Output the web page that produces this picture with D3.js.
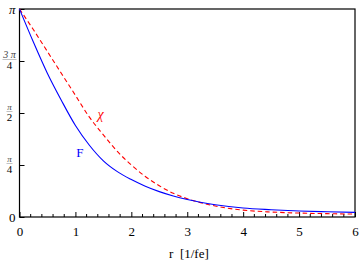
<!DOCTYPE html>
<html>
<head>
<meta charset="utf-8">
<script src="https://cdn.jsdelivr.net/npm/d3@7"></script>
<style>
  body { margin: 0; background: #fff; }
  svg text { font-family: "Liberation Serif", "Times New Roman", "DejaVu Serif", serif; }
  .axis path, .axis line { stroke: #000; }
</style>
</head>
<body>
<div id="chart"></div>
<script>

// r in 1/fe, profile values in units of pi
const radius = [0, 0.25, 0.5, 0.75, 1, 1.25, 1.5, 1.75, 2, 2.25, 2.5, 2.75, 3, 3.5, 4, 4.5, 5, 5.5, 6];
const profileF = [1.0, 0.84, 0.69, 0.56, 0.44, 0.345, 0.27, 0.218, 0.18, 0.148, 0.122, 0.101, 0.084, 0.059, 0.043, 0.035, 0.029, 0.025, 0.022];
const profileChi = [1.0, 0.90, 0.795, 0.69, 0.585, 0.48, 0.395, 0.315, 0.25, 0.195, 0.15, 0.114, 0.088, 0.053, 0.033, 0.024, 0.019, 0.016, 0.014];

const xTicks = [0, 1, 2, 3, 4, 5, 6];
const yTicks = [0, 0.25, 0.5, 0.75, 1];
const yLabels = [["0"], ["π", "4"], ["π", "2"], ["3 π", "4"], ["π"]];

const margin = {top: 9, right: 5, bottom: 46, left: 19.5};
const width = 360 - margin.left - margin.right;
const height = 263 - margin.top - margin.bottom;

const svg = d3.select("#chart").append("svg")
  .attr("width", 360)
  .attr("height", 263)
  .append("g")
  .attr("transform", "translate(" + margin.left + "," + margin.top + ")");

const x = d3.scaleLinear().domain([0, 6]).range([0, width]);
const y = d3.scaleLinear().domain([0, 1]).range([height, 0]);

// frame
svg.append("rect")
  .attr("width", width)
  .attr("height", height)
  .attr("fill", "none")
  .attr("stroke", "#000")
  .attr("stroke-width", 1.2);

// minor x ticks
const minor = d3.range(0, 6.001, 0.2).filter(v => Math.abs(v - Math.round(v)) > 0.01);
svg.append("g")
  .selectAll("line")
  .data(minor)
  .join("line")
  .attr("x1", d => x(d)).attr("x2", d => x(d))
  .attr("y1", height).attr("y2", height - 3)
  .attr("stroke", "#000");

// bottom axis
const xAxis = svg.append("g")
  .attr("class", "axis")
  .attr("transform", "translate(0," + height + ")")
  .call(d3.axisBottom(x).tickValues(xTicks).tickFormat(d3.format("d"))
    .tickSizeInner(-5).tickSizeOuter(0).tickPadding(10));
xAxis.select(".domain").remove();
xAxis.attr("font-family", null);
xAxis.selectAll("text").attr("font-size", 13).attr("fill", "#000");

// left axis
const yAxis = svg.append("g")
  .attr("class", "axis")
  .call(d3.axisLeft(y).tickValues(yTicks).tickSizeInner(-5).tickSizeOuter(0).tickFormat(""));
yAxis.select(".domain").remove();

// y tick labels, pi fractions
yTicks.forEach((t, i) => {
  const lab = yLabels[i];
  if (lab.length == 1) {
    svg.append("text")
      .attr("x", -4)
      .attr("y", y(t))
      .attr("text-anchor", "end")
      .attr("dy", "0.35em")
      .attr("font-size", 13)
      .attr("font-style", t == 0 ? "normal" : "italic")
      .text(lab[0]);
  } else {
    const g = svg.append("g").attr("transform", "translate(-10," + y(t) + ")");
    const w = lab[0].length > 1 ? 14 : 6;
    g.append("text")
      .attr("text-anchor", "middle")
      .attr("y", -3)
      .attr("font-size", lab[0].length > 1 ? 10 : 9)
      .attr("font-style", "italic")
      .attr("fill", "#444")
      .text(lab[0]);
    g.append("line")
      .attr("x1", -w / 2).attr("x2", w / 2)
      .attr("y1", -1.5).attr("y2", -1.5)
      .attr("stroke", "#999").attr("stroke-width", 0.6);
    g.append("text")
      .attr("text-anchor", "middle")
      .attr("y", 8)
      .attr("font-size", 11)
      .text(lab[1]);
  }
});

const line = d3.line()
  .x(d => x(d[0]))
  .y(d => y(d[1]))
  .curve(d3.curveMonotoneX);

svg.append("path")
  .datum(radius.map((r, i) => [r, profileChi[i]]))
  .attr("fill", "none")
  .attr("stroke", "#ff0000")
  .attr("stroke-width", 1.1)
  .attr("stroke-dasharray", "4.5,3")
  .attr("d", line);

svg.append("path")
  .datum(radius.map((r, i) => [r, profileF[i]]))
  .attr("fill", "none")
  .attr("stroke", "#0000ff")
  .attr("stroke-width", 1.1)
  .attr("d", line);

// curve labels
svg.append("text")
  .attr("x", x(1.45)).attr("y", y(0.47))
  .attr("fill", "#ff0000")
  .attr("font-size", 14)
  .attr("font-style", "italic")
  .attr("text-anchor", "middle")
  .text("χ");

svg.append("text")
  .attr("x", x(1.08)).attr("y", y(0.29))
  .attr("fill", "#0000ff")
  .attr("font-size", 13)
  .attr("text-anchor", "middle")
  .text("F");

// x label
svg.append("text")
  .attr("x", x(3.03))
  .attr("y", height + 41)
  .attr("text-anchor", "middle")
  .attr("font-size", 13)
  .attr("xml:space", "preserve")
  .text("r  [1/fe]");

</script>
</body>
</html>
